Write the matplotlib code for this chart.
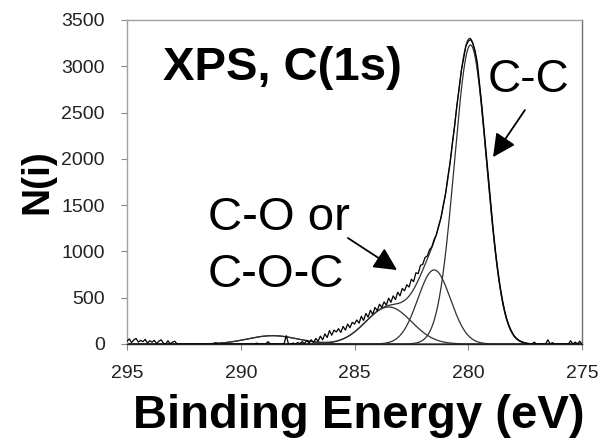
import numpy as np
import matplotlib
matplotlib.use("Agg")
import matplotlib.pyplot as plt

# ---------------- data ----------------
# measured C(1s) spectrum, 295.0 eV down to 275.0 eV in 0.1 eV steps
E_START, E_END = 295.0, 275.0
counts = [
    30, 55, 15, 45, 60, 20, 40, 25, 50, 10,            # 295.0 - 294.1
    35, 20, 40, 5, 30, 45, 10, 0, 35, 0,               # 294.0 - 293.1
    20, 30, 0, 0, 0, 0, 0, 0, 0, 0,                    # 293.0 - 292.1
    0, 0, 0, 0, 0, 0, 0, 0, 0, 15,                     # 292.0 - 291.1
    0, 0, 0, 0, 0, 0, 0, 0, 0, 0,                      # 291.0 - 290.1
    0, 0, 0, 0, 0, 0, 0, 10, 0, 0,                     # 290.0 - 289.1
    0, 0, 25, 0, 0, 0, 0, 0, 0, 0,                     # 289.0 - 288.1
    90, 0, 0, 10, 0, 15, 5, 25, 5, 40,                 # 288.0 - 287.1
    10, 45, 15, 60, 30, 85, 45, 110, 70, 145,          # 287.0 - 286.1
    95, 150, 130, 165, 125, 190, 150, 215, 175, 235,   # 286.0 - 285.1
    215, 260, 225, 300, 255, 330, 290, 365, 320, 395,  # 285.0 - 284.1
    360, 430, 395, 455, 420, 495, 450, 520, 480, 560,  # 284.0 - 283.1
    520, 600, 575, 640, 615, 700, 675, 770, 760, 850,  # 283.0 - 282.1
    860, 935, 950, 1020, 1050, 1130, 1180, 1280, 1360, 1500,   # 282.0 - 281.1
    1620, 1800, 1960, 2170, 2350, 2580, 2760, 2960, 3090, 3220,  # 281.0 - 280.1
    3270, 3290, 3250, 3170, 3040, 2800, 2570, 2300, 2030, 1750,  # 280.0 - 279.1
    1480, 1230, 1000, 800, 625, 480, 360, 265, 195, 140,         # 279.0 - 278.1
    95, 65, 45, 30, 20, 10, 5, 0, 0, 20,               # 278.0 - 277.1
    0, 0, 0, 0, 0, 45, 0, 15, 0, 0,                    # 277.0 - 276.1
    0, 0, 0, 0, 0, 35, 0, 20, 0, 30,                   # 276.0 - 275.1
    0,                                                 # 275.0
]

# fitted components (Gaussian peaks): centre (eV), height, sigma (eV)
peak_centres = [279.9, 281.5, 283.5, 288.6]
peak_heights = [3230, 800, 400, 90]
peak_sigmas = [0.71, 0.72, 1.0, 1.1]

x_ticks = [295, 290, 285, 280, 275]
y_ticks = [0, 500, 1000, 1500, 2000, 2500, 3000, 3500]

# ---------------- figure ----------------
W, H = 603, 444
fig = plt.figure(figsize=(W / 100, H / 100), dpi=100)
ax = fig.add_axes([127 / W, 1 - 344 / H, (582 - 127) / W, (344 - 20) / H])

FONT = "Liberation Sans"

energy = np.linspace(E_START, E_END, len(counts))
ax.plot(energy, counts, color="black", lw=0.9, zorder=3)

e_fine = np.linspace(E_START, E_END, 2000)
envelope = np.zeros_like(e_fine)
for c, h, s in zip(peak_centres, peak_heights, peak_sigmas):
    comp = h * np.exp(-(e_fine - c) ** 2 / (2 * s ** 2))
    envelope += comp
    ax.plot(e_fine, comp, color="#303030", lw=0.9, zorder=2)
ax.plot(e_fine, envelope, color="#303030", lw=0.9, zorder=2)

ax.set_xlim(E_START, E_END)
ax.set_ylim(0, 3500)
ax.set_xticks(x_ticks)
ax.set_yticks(y_ticks)
ax.set_xticklabels([str(t) for t in x_ticks], fontsize=14, family=FONT)
ax.set_yticklabels([str(t) for t in y_ticks], fontsize=14, family=FONT)
ax.tick_params(axis="y", direction="out", length=4, width=0.8, color="#888888", pad=12, labelcolor="#222222")
ax.tick_params(axis="x", direction="out", length=4, width=0.8, color="#888888", pad=11, labelcolor="#222222")

for side in ["left", "top", "right"]:
    ax.spines[side].set_color("#a0a0a0")
    ax.spines[side].set_linewidth(1.0)
ax.spines["right"].set_color("#707070")
ax.spines["bottom"].set_color("#202020")
ax.spines["bottom"].set_linewidth(1.0)

# text labels
ax.text(293.42, 2851, "XPS, C(1s)", fontsize=34, fontweight="bold", family=FONT,
        ha="left", va="baseline")
ax.text(279.13, 2721, "C-C", fontsize=33, family=FONT, ha="left", va="baseline")
ax.text(291.44, 1231, "C-O or", fontsize=34, family=FONT, ha="left", va="baseline")
ax.text(291.44, 615, "C-O-C", fontsize=34, family=FONT, ha="left", va="baseline")

arrow = dict(arrowstyle="-|>,head_length=0.7,head_width=0.35", color="black",
             lw=1.3, mutation_scale=20, shrinkA=0, shrinkB=0)
ax.annotate("", xy=(283.13, 799), xytext=(285.29, 1145), arrowprops=arrow)
ax.annotate("", xy=(278.91, 2019), xytext=(277.51, 2527), arrowprops=arrow)

fig.text(358.5 / W, 1 - 428 / H, "Binding Energy (eV)", fontsize=34, fontweight="bold",
         family=FONT, ha="center", va="baseline")
fig.text(37 / W, 1 - 182 / H, "N(i)", fontsize=28, fontweight="bold", family=FONT,
         ha="center", va="center", rotation=90)

fig.savefig("out.png", dpi=100)
